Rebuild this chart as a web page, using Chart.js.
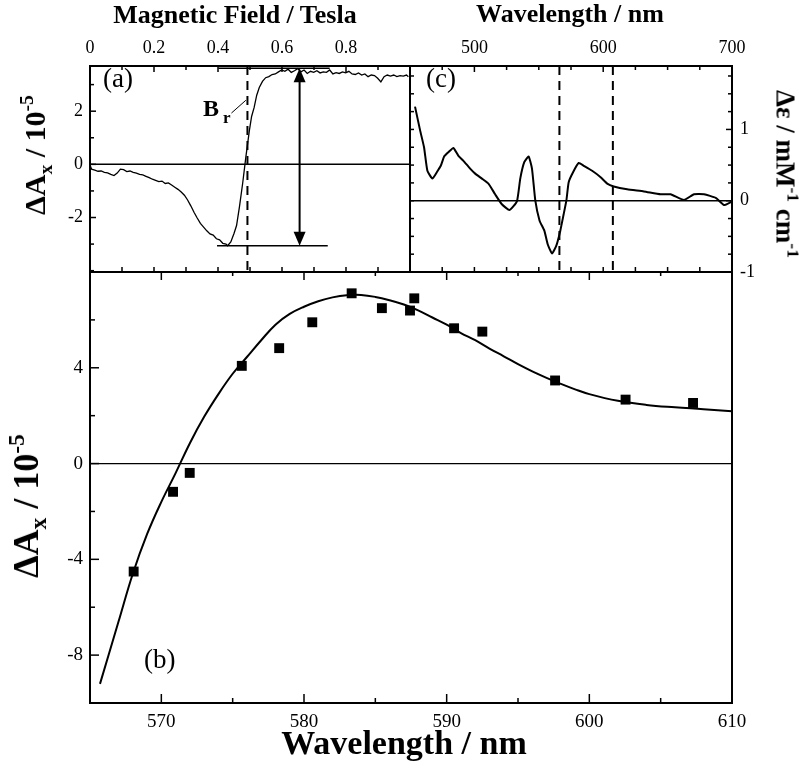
<html><head>
<meta charset="UTF-8">
<title>Magnetic field scan and wavelength dependence</title>
<script src="https://cdn.jsdelivr.net/npm/chart.js"></script>
<style>
  body { margin: 0; background: #fff; }
  #wrap { position: relative; width: 799px; height: 768px; }
  #wrap canvas { position: absolute; left: 0; top: 0; }
  .t {
    position: absolute;
    font-family: 'Liberation Serif', 'Times New Roman', serif;
    color: #000;
    white-space: nowrap;
    line-height: 1;
  }
  .b { font-weight: bold; }
  .sub { font-size: 0.65em; position: relative; top: 0.35em; }
  .sup { font-size: 0.65em; position: relative; top: -0.6em; }
</style>
</head>
<body>
<div id="wrap">
  <canvas id="chartB" width="799" height="768"></canvas>
  <canvas id="chartA" width="799" height="768"></canvas>
  <canvas id="chartC" width="799" height="768"></canvas>

  <div class="t b" style="left:235px; top:2px; font-size:26px; transform:translateX(-50%);">Magnetic Field / Tesla</div>
  <div class="t b" style="left:570px; top:1px; font-size:26px; transform:translateX(-50%);">Wavelength / nm</div>
  <div class="t b" style="left:404px; top:726px; font-size:34px; transform:translateX(-50%);">Wavelength / nm</div>

  <div class="t b" style="left:35px; top:155px; font-size:30px; transform:translate(-50%,-50%) rotate(-90deg);">&Delta;A<span class="sub">x</span> / 10<span class="sup">-5</span></div>
  <div class="t b" style="left:26px; top:506px; font-size:36px; transform:translate(-50%,-50%) rotate(-90deg);">&Delta;A<span class="sub">x</span> / 10<span class="sup">-5</span></div>
  <div class="t b" style="left:785px; top:174px; font-size:27px; transform:translate(-50%,-50%) rotate(90deg);">&Delta;&epsilon; / mM<span class="sup">-1</span> cm<span class="sup">-1</span></div>

  <div class="t" style="left:103px; top:65px; font-size:27px;">(a)</div>
  <div class="t" style="left:426px; top:65px; font-size:27px;">(c)</div>
  <div class="t" style="left:144px; top:646px; font-size:27px;">(b)</div>
  <div class="t b" style="left:203px; top:96px; font-size:24px;">B<span style="font-size:17px; position:relative; top:7px; margin-left:4px;">r</span></div>
</div>

<script>
  // (a) field scan
  const fieldT = [0.000, 0.005, 0.015, 0.025, 0.035, 0.045, 0.055, 0.065, 0.075, 0.085,
    0.095, 0.105, 0.115, 0.125, 0.135, 0.145, 0.155, 0.165, 0.175, 0.185,
    0.195, 0.205, 0.215, 0.225, 0.235, 0.245, 0.255, 0.265, 0.275, 0.285,
    0.295, 0.305, 0.315, 0.325, 0.335, 0.345, 0.355, 0.365, 0.375, 0.385,
    0.395, 0.405, 0.415, 0.425, 0.430, 0.440, 0.450, 0.458, 0.467, 0.477,
    0.487, 0.498, 0.505, 0.513, 0.521, 0.529, 0.539, 0.549, 0.559, 0.569,
    0.579, 0.589, 0.599, 0.609, 0.619, 0.629, 0.639, 0.649, 0.659, 0.669,
    0.679, 0.689, 0.699, 0.709, 0.719, 0.729, 0.739, 0.749, 0.759, 0.769,
    0.779, 0.789, 0.799, 0.809, 0.819, 0.829, 0.839, 0.849, 0.859, 0.869,
    0.879, 0.889, 0.899, 0.909, 0.919, 0.929, 0.939, 0.949, 0.959, 0.969,
    0.979, 0.989, 0.995];
  const dAxField = [-0.02, -0.18, -0.22, -0.26, -0.25, -0.30, -0.32, -0.38, -0.42, -0.33,
    -0.18, -0.20, -0.27, -0.25, -0.30, -0.33, -0.38, -0.40, -0.45, -0.50,
    -0.56, -0.60, -0.65, -0.63, -0.72, -0.70, -0.78, -0.86, -0.94, -1.04,
    -1.16, -1.34, -1.56, -1.80, -2.02, -2.22, -2.36, -2.50, -2.62, -2.66,
    -2.80, -2.84, -2.97, -3.00, -3.06, -2.92, -2.60, -2.30, -1.60, -0.72,
    0.27, 1.27, 1.80, 2.14, 2.60, 2.89, 3.12, 3.26, 3.30, 3.38,
    3.40, 3.48, 3.55, 3.50, 3.58, 3.46, 3.52, 3.60, 3.48, 3.55,
    3.42, 3.50, 3.46, 3.52, 3.44, 3.48, 3.46, 3.55, 3.40, 3.45,
    3.42, 3.48, 3.44, 3.50, 3.40, 3.38, 3.44, 3.36, 3.40, 3.30,
    3.36, 3.34, 3.24, 3.10, 3.30, 3.36, 3.32, 3.36, 3.30, 3.34,
    3.32, 3.36, 3.30];

  // (c) CD spectrum
  const cdWl = [453.9, 457.8, 460.9, 463.5, 467.4, 470.8, 473.9, 476.5, 479.8, 483.7,
    487.6, 491.5, 496.7, 500.6, 505.8, 510.9, 516.1, 521.3, 527.3, 533.0,
    535.6, 538.7, 542.1, 544.7, 547.3, 550.6, 554.3, 556.9, 560.3, 563.6,
    566.7, 569.3, 571.4, 573.2, 576.6, 581.0, 584.9, 591.4, 598.0, 603.1,
    608.2, 618.6, 631.6, 644.5, 652.3, 662.7, 670.5, 678.3, 687.4, 693.8, 700.0];
  const cdEps = [1.32, 0.99, 0.75, 0.42, 0.31, 0.40, 0.49, 0.62, 0.68, 0.74,
    0.63, 0.56, 0.45, 0.38, 0.31, 0.24, 0.09, -0.05, -0.13, -0.01,
    0.31, 0.54, 0.62, 0.45, 0.00, -0.28, -0.42, -0.61, -0.74, -0.63,
    -0.42, -0.19, 0.00, 0.26, 0.40, 0.53, 0.49, 0.42, 0.33, 0.24,
    0.20, 0.16, 0.13, 0.09, 0.09, 0.01, 0.09, 0.09, 0.04, -0.06, -0.01];

  // (b) measured points and fit
  const pointWl = [568.06, 570.82, 571.99, 575.64, 578.26, 580.58, 583.34, 585.46,
    587.43, 587.73, 590.52, 592.50, 597.60, 602.54, 607.27];
  const pointDAx = [-4.51, -1.18, -0.39, 4.08, 4.82, 5.90, 7.11, 6.49,
    6.39, 6.90, 5.65, 5.51, 3.47, 2.67, 2.53];
  const fitWl = [565.7, 567, 568, 569, 570, 571, 572, 573, 574, 575,
    576, 577, 578, 579, 580, 581, 582, 583, 584, 585,
    586, 587, 588, 589, 590, 591, 592, 593, 594, 595,
    596, 597, 598, 599, 600, 602, 604, 606, 608, 610];
  const fitDAx = [-9.2, -6.6, -4.6, -2.95, -1.6, -0.4, 0.85, 1.95, 2.9, 3.75,
    4.45, 5.15, 5.8, 6.25, 6.55, 6.78, 6.94, 7.03, 7.04, 6.96,
    6.82, 6.64, 6.4, 6.1, 5.8, 5.45, 5.15, 4.8, 4.48, 4.15,
    3.85, 3.58, 3.33, 3.1, 2.9, 2.62, 2.45, 2.35, 2.27, 2.18];

  // tick labels
  const fieldLabels = [0, 0.2, 0.4, 0.6, 0.8];
  const dAxLabelsA = [-2, 0, 2];
  const cdWlLabels = [500, 600, 700];
  const cdEpsLabels = [-1, 0, 1];
  const wlLabels = [570, 580, 590, 600, 610];
  const dAxLabelsB = [-8, -4, 0, 4];

  // markers in (a) and (c)
  const resonanceField = 0.492;
  const levelTop = 3.62, levelTopFrom = 0.401, levelTopTo = 0.749;
  const levelBottom = -3.06, levelBottomFrom = 0.397, levelBottomTo = 0.743;
  const arrowField = 0.655;
  const brLeader = [[0.442, 1.93], [0.487, 2.41]];
  const scanLimits = [566, 607.5];

  Chart.defaults.font.family = "'Liberation Serif', 'Times New Roman', serif";
  Chart.defaults.color = '#000';

  const pts = (xs, ys) => xs.map((x, i) => ({ x: x, y: ys[i] }));
  const has = (list, v) => list.some(l => Math.abs(l - v) < 1e-6);
  const labelFrom = (list, fmt) => v => has(list, v) ? fmt(v) : '';
  const fixedWidth = w => s => { s.width = w; };
  const fixedHeight = h => s => { s.height = h; };

  function decor(id, marks, extra) {
    return {
      id: id,
      afterDatasetsDraw(chart) {
        const ctx = chart.ctx, a = chart.chartArea;
        ctx.save();
        ctx.strokeStyle = '#000';
        ctx.fillStyle = '#000';
        if (extra) extra(chart, ctx, a);
        ctx.setLineDash([]);
        ctx.lineWidth = 1.5;
        marks.forEach(m => {
          const s = chart.scales[m.scale];
          s.ticks.forEach(t => {
            const p = s.getPixelForValue(t.value);
            const len = has(m.major, t.value) ? m.long : m.short;
            ctx.beginPath();
            if (m.side === 'top') { ctx.moveTo(p, a.top); ctx.lineTo(p, a.top + len); }
            if (m.side === 'bottom') { ctx.moveTo(p, a.bottom); ctx.lineTo(p, a.bottom - len); }
            if (m.side === 'left') { ctx.moveTo(a.left, p); ctx.lineTo(a.left + len, p); }
            if (m.side === 'right') { ctx.moveTo(a.right, p); ctx.lineTo(a.right - len, p); }
            ctx.stroke();
          });
        });
        ctx.lineWidth = 2;
        ctx.strokeRect(a.left, a.top, a.right - a.left, a.bottom - a.top);
        ctx.restore();
      }
    };
  }

  function zeroLine(chart, ctx, a, w) {
    const y = chart.scales.y.getPixelForValue(0);
    ctx.lineWidth = w;
    ctx.beginPath();
    ctx.moveTo(a.left, y);
    ctx.lineTo(a.right, y);
    ctx.stroke();
  }

  function arrowHead(ctx, x, tipY, dir) {
    ctx.beginPath();
    ctx.moveTo(x, tipY);
    ctx.lineTo(x - 6, tipY + dir * 14);
    ctx.lineTo(x + 6, tipY + dir * 14);
    ctx.closePath();
    ctx.fill();
  }

  const common = {
    responsive: false,
    animation: false,
    events: [],
    plugins: { legend: { display: false }, tooltip: { enabled: false } }
  };

  // panel (a)
  new Chart(document.getElementById('chartA'), {
    type: 'line',
    data: {
      datasets: [{
        data: pts(fieldT, dAxField),
        borderColor: '#000',
        borderWidth: 1.3,
        pointRadius: 0,
        tension: 0
      }]
    },
    options: Object.assign({}, common, {
      layout: { padding: { left: 0, top: 0, right: 389, bottom: 496 } },
      scales: {
        x: {
          type: 'linear', position: 'top', min: 0, max: 1.0,
          grid: { display: false, drawTicks: false }, border: { display: false },
          ticks: { stepSize: 0.1, autoSkip: false, maxRotation: 0, padding: 7, font: { size: 18 },
            callback: labelFrom(fieldLabels, v => v === 0 ? '0' : v.toFixed(1)) },
          afterFit: fixedHeight(66)
        },
        y: {
          type: 'linear', position: 'left', min: -4.05, max: 3.7,
          grid: { display: false, drawTicks: false }, border: { display: false },
          ticks: { stepSize: 1, includeBounds: false, autoSkip: false, padding: 7, font: { size: 18 },
            callback: labelFrom(dAxLabelsA, v => String(v)) },
          afterFit: fixedWidth(90)
        }
      }
    }),
    plugins: [decor('decorA', [
      { scale: 'x', side: 'top', major: fieldLabels, long: 6, short: 4 },
      { scale: 'x', side: 'bottom', major: [], long: 5, short: 5 },
      { scale: 'y', side: 'left', major: dAxLabelsA, long: 6, short: 4 }
    ], (chart, ctx, a) => {
      const sx = chart.scales.x, sy = chart.scales.y;
      zeroLine(chart, ctx, a, 1.5);
      // resonance field
      ctx.lineWidth = 2;
      ctx.setLineDash([9, 6]);
      const rx = sx.getPixelForValue(resonanceField);
      ctx.beginPath(); ctx.moveTo(rx, a.top); ctx.lineTo(rx, a.bottom); ctx.stroke();
      ctx.setLineDash([]);
      // levels
      ctx.lineWidth = 1.5;
      const yT = sy.getPixelForValue(levelTop), yB = sy.getPixelForValue(levelBottom);
      ctx.beginPath();
      ctx.moveTo(sx.getPixelForValue(levelTopFrom), yT); ctx.lineTo(sx.getPixelForValue(levelTopTo), yT);
      ctx.moveTo(sx.getPixelForValue(levelBottomFrom), yB); ctx.lineTo(sx.getPixelForValue(levelBottomTo), yB);
      ctx.stroke();
      // double arrow
      const ax = sx.getPixelForValue(arrowField);
      ctx.lineWidth = 2;
      ctx.beginPath(); ctx.moveTo(ax, yT + 10); ctx.lineTo(ax, yB - 10); ctx.stroke();
      arrowHead(ctx, ax, yT, 1);
      arrowHead(ctx, ax, yB, -1);
      // B_r leader
      ctx.lineWidth = 1;
      ctx.beginPath();
      ctx.moveTo(sx.getPixelForValue(brLeader[0][0]), sy.getPixelForValue(brLeader[0][1]));
      ctx.lineTo(sx.getPixelForValue(brLeader[1][0]), sy.getPixelForValue(brLeader[1][1]));
      ctx.stroke();
    })]
  });

  // panel (c)
  new Chart(document.getElementById('chartC'), {
    type: 'line',
    data: {
      datasets: [{
        data: pts(cdWl, cdEps),
        borderColor: '#000',
        borderWidth: 2,
        pointRadius: 0,
        tension: 0.15
      }]
    },
    options: Object.assign({}, common, {
      layout: { padding: { left: 410, top: 0, right: 0, bottom: 496 } },
      scales: {
        x: {
          type: 'linear', position: 'top', min: 450, max: 700,
          grid: { display: false, drawTicks: false }, border: { display: false },
          ticks: { stepSize: 25, autoSkip: false, maxRotation: 0, padding: 7, font: { size: 18 },
            callback: labelFrom(cdWlLabels, v => String(v)) },
          afterFit: fixedHeight(66)
        },
        y: {
          type: 'linear', position: 'right', min: -1, max: 1.89,
          grid: { display: false, drawTicks: false }, border: { display: false },
          ticks: { stepSize: 0.25, includeBounds: false, autoSkip: false, padding: 8, font: { size: 18 },
            callback: labelFrom(cdEpsLabels, v => String(v)) },
          afterFit: fixedWidth(67)
        }
      }
    }),
    plugins: [decor('decorC', [
      { scale: 'x', side: 'top', major: cdWlLabels, long: 6, short: 4 },
      { scale: 'x', side: 'bottom', major: [], long: 5, short: 5 },
      { scale: 'y', side: 'right', major: cdEpsLabels, long: 6, short: 4 },
      { scale: 'y', side: 'left', major: [], long: 4, short: 4 }
    ], (chart, ctx, a) => {
      const sx = chart.scales.x;
      zeroLine(chart, ctx, a, 1.5);
      ctx.lineWidth = 2;
      ctx.setLineDash([9, 6]);
      scanLimits.forEach(w => {
        const x = sx.getPixelForValue(w);
        ctx.beginPath(); ctx.moveTo(x, a.top); ctx.lineTo(x, a.bottom); ctx.stroke();
      });
      ctx.setLineDash([]);
    })]
  });

  // panel (b)
  new Chart(document.getElementById('chartB'), {
    type: 'line',
    data: {
      datasets: [{
        type: 'scatter',
        data: pts(pointWl, pointDAx),
        backgroundColor: '#000',
        borderColor: '#000',
        pointStyle: 'rect',
        pointRadius: 7,
        borderWidth: 0
      }, {
        data: pts(fitWl, fitDAx),
        borderColor: '#000',
        borderWidth: 2,
        pointRadius: 0,
        tension: 0.4
      }]
    },
    options: Object.assign({}, common, {
      layout: { padding: { left: 0, top: 272, right: 67, bottom: 0 } },
      scales: {
        x: {
          type: 'linear', position: 'bottom', min: 565, max: 610,
          grid: { display: false, drawTicks: false }, border: { display: false },
          ticks: { stepSize: 5, autoSkip: false, maxRotation: 0, padding: 8, font: { size: 19 },
            callback: labelFrom(wlLabels, v => String(v)) },
          afterFit: fixedHeight(65)
        },
        y: {
          type: 'linear', position: 'left', min: -10, max: 8,
          grid: { display: false, drawTicks: false }, border: { display: false },
          ticks: { stepSize: 2, autoSkip: false, padding: 7, font: { size: 19 },
            callback: labelFrom(dAxLabelsB, v => String(v)) },
          afterFit: fixedWidth(90)
        }
      }
    }),
    plugins: [decor('decorB', [
      { scale: 'x', side: 'bottom', major: wlLabels, long: 9, short: 5 },
      { scale: 'x', side: 'top', major: wlLabels, long: 8, short: 4 },
      { scale: 'y', side: 'left', major: dAxLabelsB, long: 9, short: 5 }
    ], (chart, ctx, a) => {
      zeroLine(chart, ctx, a, 1.2);
    })]
  });
</script>
</body></html>
